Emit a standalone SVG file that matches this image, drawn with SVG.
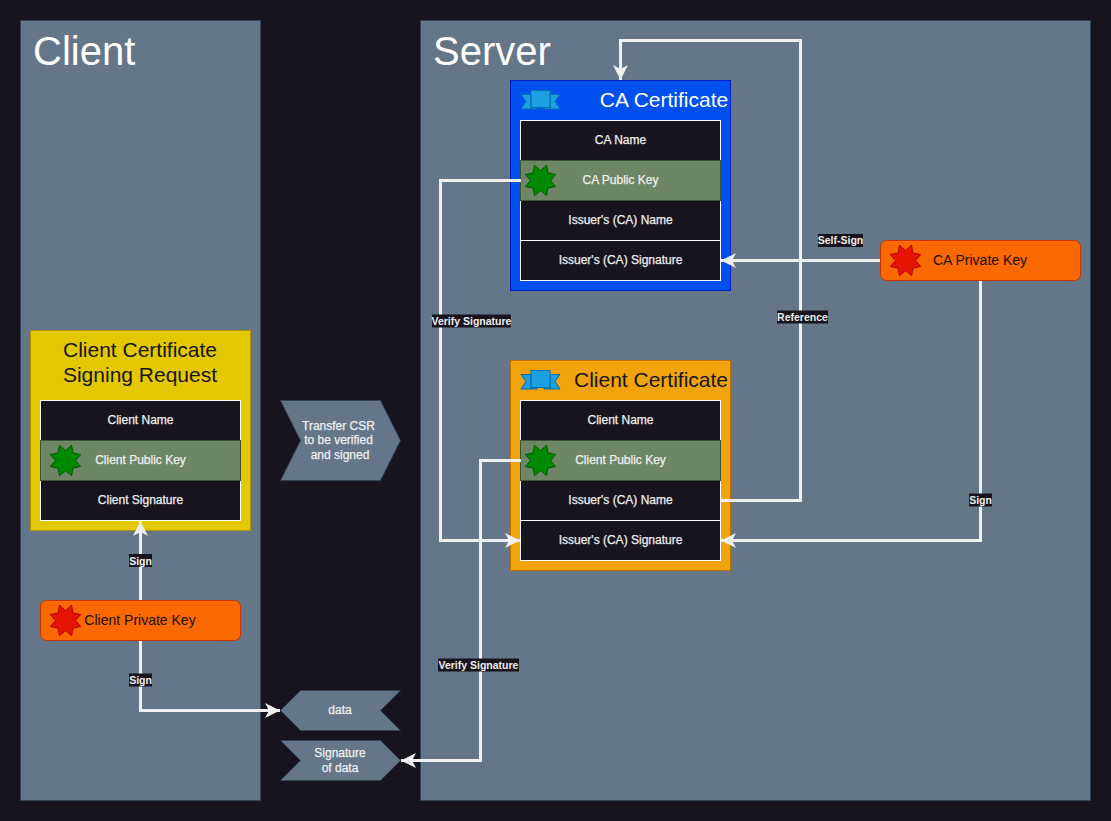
<svg xmlns="http://www.w3.org/2000/svg" width="1111" height="821" viewBox="0 0 1111 821">
<style>
text{font-family:"Liberation Sans",Arial,sans-serif;text-anchor:middle}
.zone{fill:#647687;stroke:#314354;stroke-width:1}
.big{font-size:40px;fill:#fff;text-anchor:start}
.title{font-size:21px}
.cell{fill:#18141d;stroke:#fff;stroke-width:1}
.pub{fill:#6d8764;stroke:#3a5431;stroke-width:1}
.t{font-size:12px;fill:#f0f0f0;stroke:#f0f0f0;stroke-width:.25}
.priv{fill:#fa6800;stroke:#c73500;stroke-width:1}
.pt{font-size:14px;fill:#1a0c00}
.gs{fill:#008a00;stroke:#005700;stroke-width:1}
.rs{fill:#e51400;stroke:#b20000;stroke-width:1}
.shape{fill:#647687;stroke:#314354;stroke-width:1}
.conn{fill:none;stroke:#f0f0f0;stroke-width:3}
.lb{fill:#18141d}
.lt{font-size:10.5px;font-weight:700;fill:#f0f0f0}
.rib{fill:#1ba1e2;stroke:#006eaf;stroke-width:1}
</style>
<defs>
<marker id="arr" markerUnits="userSpaceOnUse" markerWidth="16" markerHeight="16" refX="15" refY="8" orient="auto"><path d="M0,0.500 L15,8 L0,15.500 L4,8 Z" fill="#f0f0f0"/></marker>
<polygon id="star" points="-6,-15.200 0,-10 6,-15.200 7.500,-7.500 15.200,-6 10,0 15.200,6 7.500,7.500 6,15.200 0,10 -6,15.200 -7.500,7.500 -15.200,6 -10,0 -15.200,-6 -7.500,-7.500"/>
<g id="ribbon"><path class="rib" d="M521,94.500 H531 V109 H521 L526,101.500 Z M560,94.500 H550 V109 H560 L555,101.500 Z"/><path class="rib" d="M531,109 H537 V107 H544 V109 H550 V106 H531 Z"/><rect class="rib" x="531" y="90.500" width="19" height="17"/></g>
</defs>
<rect width="1111" height="821" fill="#18141d"/>
<g id="client-zone"><rect class="zone" x="20.500" y="20.500" width="240" height="780"/><text class="big" x="33" y="65">Client</text></g>
<g id="server-zone"><rect class="zone" x="420.500" y="20.500" width="670" height="780"/><text class="big" x="433" y="65">Server</text></g>

<g id="ca-certificate">
<rect x="510.500" y="80.500" width="220" height="210" fill="#0050ef" stroke="#001dbc"/>
<use href="#ribbon"/>
<text class="title" x="664" y="107" fill="#fff">CA Certificate</text>
<rect class="cell" x="520.500" y="120.500" width="200" height="40"/><text class="t" x="620.500" y="144">CA Name</text>
<rect class="cell" x="520.500" y="200.500" width="200" height="40"/><text class="t" x="620.500" y="224">Issuer's (CA) Name</text>
<rect class="cell" x="520.500" y="240.500" width="200" height="40"/><text class="t" x="620.500" y="264">Issuer's (CA) Signature</text>
<rect class="pub" x="520.500" y="160.500" width="200" height="40"/><use href="#star" class="gs" x="540.500" y="180.500"/><text class="t" x="620.500" y="184">CA Public Key</text>
</g>

<g id="client-certificate">
<rect x="510.500" y="360.500" width="220" height="210" fill="#f0a30a" stroke="#bd7000"/>
<use href="#ribbon" y="280"/>
<text class="title" x="651" y="387" fill="#18141d">Client Certificate</text>
<rect class="cell" x="520.500" y="400.500" width="200" height="40"/><text class="t" x="620.500" y="424">Client Name</text>
<rect class="cell" x="520.500" y="480.500" width="200" height="40"/><text class="t" x="620.500" y="504">Issuer's (CA) Name</text>
<rect class="cell" x="520.500" y="520.500" width="200" height="40"/><text class="t" x="620.500" y="544">Issuer's (CA) Signature</text>
<rect class="pub" x="520.500" y="440.500" width="200" height="40"/><use href="#star" class="gs" x="540.500" y="460.500"/><text class="t" x="620.500" y="464">Client Public Key</text>
</g>

<g id="csr">
<rect x="30.500" y="330.500" width="220" height="200" fill="#e3c800" stroke="#b09500"/>
<text class="title" x="140" y="357" fill="#18141d">Client Certificate</text>
<text class="title" x="140" y="382" fill="#18141d">Signing Request</text>
<rect class="cell" x="40.500" y="400.500" width="200" height="40"/><text class="t" x="140.500" y="424">Client Name</text>
<rect class="cell" x="40.500" y="480.500" width="200" height="40"/><text class="t" x="140.500" y="504">Client Signature</text>
<rect class="pub" x="40.500" y="440.500" width="200" height="40"/><use href="#star" class="gs" x="65.500" y="460.500"/><text class="t" x="140.500" y="464">Client Public Key</text>
</g>

<g id="connectors">
<path class="conn" d="M721,500.500 H800.500 V40.500 H620.500 V80" marker-end="url(#arr)"/>
<path class="conn" d="M881,260.500 H721" marker-end="url(#arr)"/>
<path class="conn" d="M980.500,280 V540.500 H721" marker-end="url(#arr)"/>
<path class="conn" d="M521,180.500 H440.500 V540.500 H520" marker-end="url(#arr)"/>
<path class="conn" d="M521,460.500 H480.500 V760.500 H401" marker-end="url(#arr)"/>
<path class="conn" d="M140.500,600 V521" marker-end="url(#arr)"/>
<path class="conn" d="M140.500,640 V710.500 H280" marker-end="url(#arr)"/>
<rect class="lb" x="818" y="234" width="45" height="13"/><text class="lt" x="840.500" y="244">Self-Sign</text>
<rect class="lb" x="777" y="310.500" width="51" height="13"/><text class="lt" x="802.500" y="321">Reference</text>
<rect class="lb" x="432" y="314.500" width="79" height="13"/><text class="lt" x="471.500" y="325">Verify Signature</text>
<rect class="lb" x="438" y="658.500" width="81" height="13"/><text class="lt" x="478.500" y="669">Verify Signature</text>
<rect class="lb" x="969" y="493.500" width="23" height="13"/><text class="lt" x="980.500" y="504">Sign</text>
<rect class="lb" x="129" y="554" width="23" height="13"/><text class="lt" x="140.500" y="564.500">Sign</text>
<rect class="lb" x="129" y="673.500" width="23" height="13"/><text class="lt" x="140.500" y="684">Sign</text>
</g>

<g id="ca-private-key"><rect class="priv" x="880.500" y="240.500" width="200" height="40" rx="6"/><use href="#star" class="rs" x="905.500" y="260.500"/><text class="pt" x="980" y="265">CA Private Key</text></g>
<g id="client-private-key"><rect class="priv" x="40.500" y="600.500" width="200" height="40" rx="6"/><use href="#star" class="rs" x="65.500" y="620.500"/><text class="pt" x="140" y="625">Client Private Key</text></g>

<g id="transfer-csr"><polygon class="shape" points="280.500,400.500 380.500,400.500 400.500,440.500 380.500,480.500 280.500,480.500 300.500,440.500"/><text class="t" x="338.500" y="430">Transfer CSR</text><text class="t" x="338.500" y="444">to be verified</text><text class="t" x="340" y="459">and signed</text></g>
<g id="data"><polygon class="shape" points="400.500,690.500 300.500,690.500 280.500,710.500 300.500,730.500 400.500,730.500 380.500,710.500"/><text class="t" x="340" y="714">data</text></g>
<g id="signature-of-data"><polygon class="shape" points="280.500,740.500 380.500,740.500 400.500,760.500 380.500,780.500 280.500,780.500 300.500,760.500"/><text class="t" x="340" y="757">Signature</text><text class="t" x="340" y="772">of data</text></g>
</svg>
